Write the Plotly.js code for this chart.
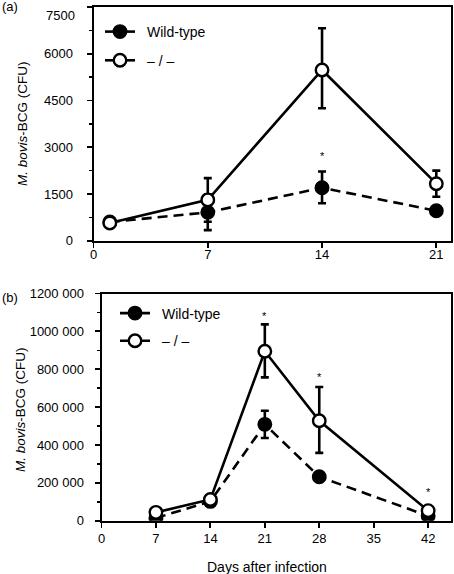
<!DOCTYPE html>
<html>
<head>
<meta charset="utf-8">
<script src="https://cdn.plot.ly/plotly-3.0.1.min.js"></script>
<style>
html,body{margin:0;padding:0;background:#fff;}
#chart{width:454px;height:574px;}
</style>
</head>
<body>
<div id="chart"></div>
<script>
// ---------- Panel (a) ----------
const daysA = [1, 7, 14, 21];
const wtA = [600, 910, 1700, 960];
const wtAerrPlus = [60, 570, 520, 80];
const wtAerrMinus = [60, 570, 500, 80];
const koA = [570, 1310, 5480, 1830];
const koAerrPlus = [60, 700, 1340, 420];
const koAerrMinus = [60, 700, 1230, 420];
const starA_x = [14];
const starA_y = [2800];
const yTicksA = [0, 1500, 3000, 4500, 6000, 7500];
const xTicksA = [0, 7, 14, 21];

// ---------- Panel (b) ----------
const daysB = [7, 14, 21, 28, 42];
const wtB = [14000, 102000, 509000, 232000, 25000];
const wtBerr = [3000, 10000, 72000, 10000, 4000];
const koB = [44000, 112000, 895000, 528000, 53000];
const koBerrPlus = [5000, 10000, 142000, 178000, 6000];
const koBerrMinus = [5000, 10000, 138000, 170000, 6000];
const starB_x = [21, 28, 42];
const starB_y = [1096000, 774000, 166000];
const yTicksB = [0, 200000, 400000, 600000, 800000, 1000000, 1200000];
const yTickTextB = ['0', '200 000', '400 000', '600 000', '800 000', '1000 000', '1200 000'];
const xTicksB = [0, 7, 14, 21, 28, 35, 42];

const legendNames = ['Wild-type', '\u2013 / \u2013'];

const FONT = 'Liberation Sans, Arial, Helvetica, sans-serif';
const W = 454, H = 574;
const px = v => v / W;
const py = v => 1 - v / H;

const lw = 2.6;
const msize = 12.5;
const dashWT = '10px,6px';

function err(plus, minus) {
  return {type: 'data', symmetric: false, array: plus, arrayminus: minus,
          color: '#000', thickness: 2.6, width: 4};
}

const traces = [
  // Panel a
  {x: daysA, y: wtA, xaxis: 'x', yaxis: 'y', mode: 'lines+markers', showlegend: false,
   line: {color: '#000', width: lw, dash: dashWT},
   marker: {symbol: 'circle', size: msize, color: '#000', line: {color: '#000', width: 2.4}},
   error_y: err(wtAerrPlus, wtAerrMinus)},
  {x: daysA, y: koA, xaxis: 'x', yaxis: 'y', mode: 'lines+markers', showlegend: false,
   line: {color: '#000', width: lw},
   marker: {symbol: 'circle', size: msize, color: '#fff', line: {color: '#000', width: 2.4}},
   error_y: err(koAerrPlus, koAerrMinus)},
  // Panel b
  {x: daysB, y: wtB, xaxis: 'x2', yaxis: 'y2', mode: 'lines+markers', showlegend: false,
   line: {color: '#000', width: lw, dash: dashWT},
   marker: {symbol: 'circle', size: msize, color: '#000', line: {color: '#000', width: 2.4}},
   error_y: err(wtBerr, wtBerr)},
  {x: daysB, y: koB, xaxis: 'x2', yaxis: 'y2', mode: 'lines+markers', showlegend: false,
   line: {color: '#000', width: lw},
   marker: {symbol: 'circle', size: msize, color: '#fff', line: {color: '#000', width: 2.4}},
   error_y: err(koBerrPlus, koBerrMinus)},
];

// legend-only entries (solid short lines as in the original key)
[['legend', 'x', 'y'], ['legend2', 'x2', 'y2']].forEach(([lg, xa, ya]) => {
  traces.push({x: [null], y: [null], xaxis: xa, yaxis: ya, mode: 'lines+markers', name: '\u2002' + legendNames[0],
    legend: lg, legendgroup: lg + 'a', showlegend: true,
    line: {color: '#000', width: lw},
    marker: {symbol: 'circle', size: msize, color: '#000', line: {color: '#000', width: 2.4}}});
  traces.push({x: [null], y: [null], xaxis: xa, yaxis: ya, mode: 'lines+markers', name: '\u2002' + legendNames[1],
    legend: lg, legendgroup: lg + 'b', showlegend: true,
    line: {color: '#000', width: lw},
    marker: {symbol: 'circle', size: msize, color: '#fff', line: {color: '#000', width: 2.4}}});
});

const axisCommon = {
  showgrid: false, zeroline: false, showline: true, linecolor: '#000', linewidth: 2,
  mirror: true, ticks: 'outside', ticklen: 5, tickwidth: 1.8, tickcolor: '#000',
  tickfont: {family: FONT, size: 13, color: '#000'}, fixedrange: true
};

// the top label of panel (a) sits slightly below its tick, as in the original
const yTickTextA = yTicksA.map((v, i) => i === yTicksA.length - 1 ? '' : String(v));

const starNotes = [];
starA_x.forEach((x, i) => starNotes.push({text: '*', xref: 'x', yref: 'y', x: x, y: starA_y[i],
  showarrow: false, yshift: -3, font: {family: FONT, size: 11, color: '#000'}}));
starB_x.forEach((x, i) => starNotes.push({text: '*', xref: 'x2', yref: 'y2', x: x, y: starB_y[i],
  showarrow: false, yshift: -3, font: {family: FONT, size: 11, color: '#000'}}));

const layout = {
  width: W, height: H,
  margin: {l: 0, r: 0, t: 0, b: 0},
  paper_bgcolor: '#fff', plot_bgcolor: '#fff',
  font: {family: FONT, color: '#000'},
  showlegend: true,
  xaxis: Object.assign({}, axisCommon, {domain: [px(93.5), px(451)], range: [0, 21.9],
    tickmode: 'array', tickvals: xTicksA, anchor: 'y', ticklabelstandoff: -4}),
  yaxis: Object.assign({}, axisCommon, {domain: [py(240.7), py(7)], range: [0, 7501],
    tickmode: 'array', tickvals: yTicksA, ticktext: yTickTextA, anchor: 'x', ticklabelstandoff: 11,
    minor: {dtick: 750, tick0: 0, ticks: 'outside', ticklen: 3, tickwidth: 1.5, tickcolor: '#000', showgrid: false}}),
  xaxis2: Object.assign({}, axisCommon, {domain: [px(101.5), px(450.7)], range: [0, 44.9],
    tickmode: 'array', tickvals: xTicksB, anchor: 'y2'}),
  yaxis2: Object.assign({}, axisCommon, {domain: [py(520.7), py(293.5)], range: [0, 1200100],
    tickmode: 'array', tickvals: yTicksB, ticktext: yTickTextB, anchor: 'x2', ticklabelstandoff: 8,
    minor: {dtick: 100000, tick0: 0, ticks: 'outside', ticklen: 3, tickwidth: 1.5, tickcolor: '#000', showgrid: false}}),
  legend: {x: px(100), y: py(16), xanchor: 'left', yanchor: 'top', bgcolor: 'rgba(0,0,0,0)',
    borderwidth: 0, font: {family: FONT, size: 14, color: '#000'}, traceorder: 'grouped',
    tracegroupgap: 7.5, itemwidth: 30},
  legend2: {x: px(115), y: py(297.5), xanchor: 'left', yanchor: 'top', bgcolor: 'rgba(0,0,0,0)',
    borderwidth: 0, font: {family: FONT, size: 14, color: '#000'}, traceorder: 'grouped',
    tracegroupgap: 6.5, itemwidth: 30},
  annotations: starNotes.concat([
    {text: String(yTicksA[yTicksA.length - 1]), xref: 'x domain', yref: 'y', x: 0, y: yTicksA[yTicksA.length - 1],
     xanchor: 'right', yanchor: 'middle', xshift: -17, yshift: -8, showarrow: false,
     font: {family: FONT, size: 13, color: '#000'}},
    {text: '(a)', xref: 'paper', yref: 'paper', x: px(0), y: py(6), xanchor: 'left', yanchor: 'middle',
     showarrow: false, font: {family: FONT, size: 13, color: '#000'}},
    {text: '(b)', xref: 'paper', yref: 'paper', x: px(0), y: py(297), xanchor: 'left', yanchor: 'middle',
     showarrow: false, font: {family: FONT, size: 13, color: '#000'}},
    {text: '<i>M. bovis</i>-BCG (CFU)', xref: 'paper', yref: 'paper', x: px(22), y: py(124),
     xanchor: 'center', yanchor: 'middle', textangle: -90, showarrow: false,
     font: {family: FONT, size: 13.5, color: '#000'}},
    {text: '<i>M. bovis</i>-BCG (CFU)', xref: 'paper', yref: 'paper', x: px(20), y: py(410),
     xanchor: 'center', yanchor: 'middle', textangle: -90, showarrow: false,
     font: {family: FONT, size: 13.5, color: '#000'}},
    {text: 'Days after infection', xref: 'paper', yref: 'paper', x: px(266.5), y: py(566.5),
     xanchor: 'center', yanchor: 'middle', showarrow: false,
     font: {family: FONT, size: 14, color: '#000'}}
  ])
};

Plotly.newPlot('chart', traces, layout, {staticPlot: true, displayModeBar: false});
</script>
</body>
</html>
